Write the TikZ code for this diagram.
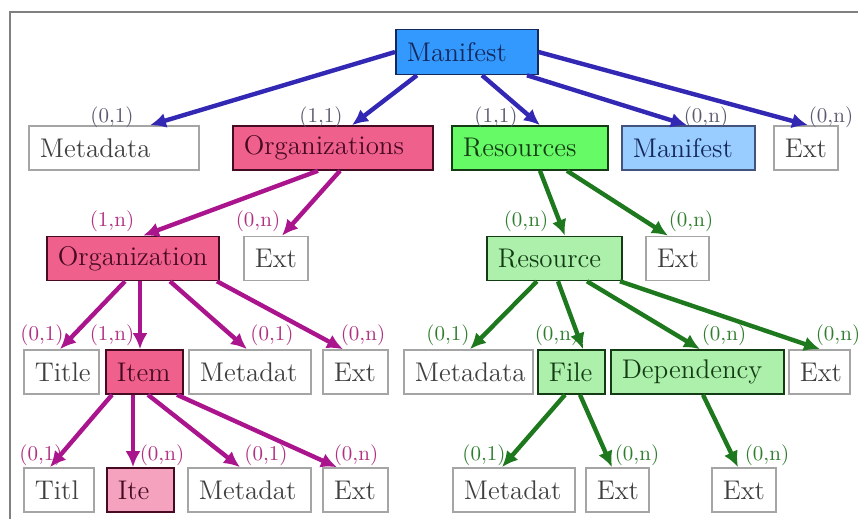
\documentclass[tikz,border=0pt]{standalone}
\usetikzlibrary{arrows.meta}
\definecolor{mainfill}{RGB}{51,153,255}
\definecolor{subfill}{RGB}{153,204,255}
\definecolor{orgfill}{RGB}{240,96,140}
\definecolor{itefill}{RGB}{245,162,190}
\definecolor{ressfill}{RGB}{102,250,102}
\definecolor{resfill}{RGB}{172,240,172}
\definecolor{boxgray}{RGB}{165,165,165}
\definecolor{textgray}{RGB}{64,64,64}
\definecolor{navy}{RGB}{20,40,90}
\definecolor{maroon}{RGB}{70,10,35}
\definecolor{darkgreen}{RGB}{20,60,20}
\definecolor{bluearrow}{RGB}{50,40,180}
\definecolor{pinkarrow}{RGB}{170,20,140}
\definecolor{greenarrow}{RGB}{30,120,30}
\definecolor{cardgray}{RGB}{90,90,110}
\definecolor{cardpink}{RGB}{176,48,128}
\definecolor{cardgreen}{RGB}{46,125,46}
\begin{document}
\begin{tikzpicture}[x=0.5pt, y=-0.5pt,
    box/.style={draw, minimum height=22pt, inner xsep=5.5pt, inner ysep=0pt, align=left, anchor=west,
                line width=0.8pt, font=\fontsize{13.5}{15}\selectfont},
    plainbox/.style={box, draw=boxgray, text=textgray, fill=white},
    mainbox/.style={box, draw=navy, text=navy, fill=mainfill},
    subbox/.style={box, draw=navy!80, text=navy, fill=subfill},
    orgbox/.style={box, draw=maroon, text=maroon, fill=orgfill},
    itebox/.style={box, draw=maroon, text=maroon, fill=itefill},
    ressbox/.style={box, draw=darkgreen, text=darkgreen, fill=ressfill},
    resbox/.style={box, draw=darkgreen, text=darkgreen, fill=resfill},
    card/.style={inner sep=0pt, font=\fontsize{10.5}{12}\selectfont},
    link/.style={line width=2.2pt, -{Latex[length=8pt,width=7.5pt]}},
    bluelink/.style={link, draw=bluearrow},
    pinklink/.style={link, draw=pinkarrow},
    greenlink/.style={link, draw=greenarrow}]
    \useasboundingbox (0,0) rectangle (858,519);
    \draw[line width=1pt, draw=gray] (10,519) -- (10,12) -- (858,12);

    \node[mainbox, text width=60pt, minimum height=22.5pt] (man) at (395,52) {Manifest};

    \node[plainbox, text width=74pt] (meta) at (28,148) {Metadata};
    \node[orgbox, text width=89pt] (orgs) at (232,148) {Organizations};
    \node[ressbox, text width=67pt] (ress) at (451,148) {Resources};
    \node[subbox, text width=55.5pt] (subman) at (621,148) {Manifest};
    \node[plainbox, text width=21pt] (manext) at (773,148) {Ext};

    \node[orgbox, text width=75pt] (org) at (46,258.5) {Organization};
    \node[plainbox, text width=21pt] (orgsext) at (243,258.5) {Ext};
    \node[resbox, text width=56.5pt] (res) at (486,258.5) {Resource};
    \node[plainbox, text width=20.5pt] (ressext) at (645,258.5) {Ext};

    \node[plainbox, text width=26.5pt] (title) at (23,372) {Title};
    \node[orgbox, text width=27.5pt] (item) at (105,372) {Item};
    \node[plainbox, text width=50pt] (orgmeta) at (188,372) {Metadat};
    \node[plainbox, text width=21.5pt] (orgext) at (322,372) {Ext};
    \node[plainbox, text width=53.5pt] (resmeta) at (403,372) {Metadata};
    \node[resbox, text width=22.5pt] (file) at (537,372) {File};
    \node[resbox, text width=75.5pt] (dep) at (610,372) {Dependency};
    \node[plainbox, text width=19.5pt] (resext) at (788,372) {Ext};

    \node[plainbox, text width=24pt] (titl) at (23,490) {Titl};
    \node[itebox, text width=22.5pt] (ite) at (106,490) {Ite};
    \node[plainbox, text width=50.5pt] (itemmeta) at (187,490) {Metadat};
    \node[plainbox, text width=21.5pt] (itemext) at (322,490) {Ext};
    \node[plainbox, text width=50pt] (filemeta) at (452,490) {Metadat};
    \node[plainbox, text width=20.5pt] (fileext) at (585,490) {Ext};
    \node[plainbox, text width=21pt] (depext) at (711,490) {Ext};

    \node[card, text=cardgray] (c1) at (112,117) {(0,1)};
    \node[card, text=cardgray] (c2) at (321,117) {(1,1)};
    \node[card, text=cardgray] (c3) at (496,117) {(1,1)};
    \node[card, text=cardgray] (c4) at (706,117) {(0,n)};
    \node[card, text=cardgray] (c5) at (831,117) {(0,n)};
    \node[card, text=cardpink] (c6) at (112,221) {(1,n)};
    \node[card, text=cardpink] (c7) at (258,221) {(0,n)};
    \node[card, text=cardgreen] (c8) at (526,221) {(0,n)};
    \node[card, text=cardgreen] (c9) at (691,221) {(0,n)};
    \node[card, text=cardpink] (c10) at (42,335) {(0,1)};
    \node[card, text=cardpink] (c11) at (112,335) {(1,n)};
    \node[card, text=cardpink] (c12) at (272,335) {(0,1)};
    \node[card, text=cardpink] (c13) at (363,335) {(0,n)};
    \node[card, text=cardgreen] (c14) at (448,335) {(0,1)};
    \node[card, text=cardgreen] (c15) at (557,335) {(0,n)};
    \node[card, text=cardgreen] (c16) at (724,335) {(0,n)};
    \node[card, text=cardgreen] (c17) at (838,335) {(0,n)};
    \node[card, text=cardpink] (c18) at (41,455) {(0,1)};
    \node[card, text=cardpink] (c19) at (162,455) {(0,n)};
    \node[card, text=cardpink] (c20) at (266,455) {(0,1)};
    \node[card, text=cardpink] (c21) at (356,455) {(0,n)};
    \node[card, text=cardgreen] (c22) at (484,455) {(0,1)};
    \node[card, text=cardgreen] (c23) at (637,455) {(0,n)};
    \node[card, text=cardgreen] (c24) at (767,455) {(0,n)};

    \draw[bluelink] (man.west) -- ([xshift=61pt]meta.north west);
    \draw[bluelink] ([xshift=11pt]man.south west) -- ([xshift=60pt]orgs.north west);
    \draw[bluelink] ([xshift=43.5pt]man.south west) -- ([xshift=44.5pt]ress.north west);
    \draw[bluelink] ([xshift=66pt]man.south west) -- ([xshift=33pt]subman.north west);
    \draw[bluelink] (man.east) -- ([xshift=17.5pt]manext.north west);

    \draw[pinklink] ([xshift=43pt]orgs.south west) -- ([xshift=48.5pt]org.north west);
    \draw[pinklink] ([xshift=54pt]orgs.south west) -- ([xshift=19.5pt]orgsext.north west);
    \draw[greenlink] ([xshift=44.5pt]ress.south west) -- ([xshift=39.5pt]res.north west);
    \draw[greenlink] ([xshift=58pt]ress.south west) -- ([xshift=11.5pt]ressext.north west);

    \draw[pinklink] ([xshift=39.5pt]org.south west) -- ([xshift=18.5pt]title.north west);
    \draw[pinklink] ([xshift=47pt]org.south west) -- ([xshift=17.5pt]item.north west);
    \draw[pinklink] ([xshift=62pt]org.south west) -- ([xshift=29.5pt]orgmeta.north west);
    \draw[pinklink] ([xshift=85.5pt]org.south west) -- ([xshift=10.5pt]orgext.north west);

    \draw[greenlink] ([xshift=25.5pt]res.south west) -- ([xshift=33.5pt]resmeta.north west);
    \draw[greenlink] ([xshift=36pt]res.south west) -- ([xshift=23pt]file.north west);
    \draw[greenlink] ([xshift=50.5pt]res.south west) -- ([xshift=45pt]dep.north west);
    \draw[greenlink] ([xshift=67pt]res.south west) -- ([xshift=16pt]resext.north west);

    \draw[pinklink] ([xshift=3.5pt]item.south west) -- ([xshift=13.5pt]titl.north west);
    \draw[pinklink] ([xshift=14pt]item.south west) -- ([xshift=13.5pt]ite.north west);
    \draw[pinklink] ([xshift=21.5pt]item.south west) -- ([xshift=26.5pt]itemmeta.north west);
    \draw[pinklink] ([xshift=36pt]item.south west) -- ([xshift=7.5pt]itemext.north west);

    \draw[greenlink] ([xshift=14pt]file.south west) -- ([xshift=25pt]filemeta.north west);
    \draw[greenlink] ([xshift=21.5pt]file.south west) -- ([xshift=13.5pt]fileext.north west);
    \draw[greenlink] ([xshift=46.5pt]dep.south west) -- ([xshift=13.5pt]depext.north west);
\end{tikzpicture}
\end{document}
